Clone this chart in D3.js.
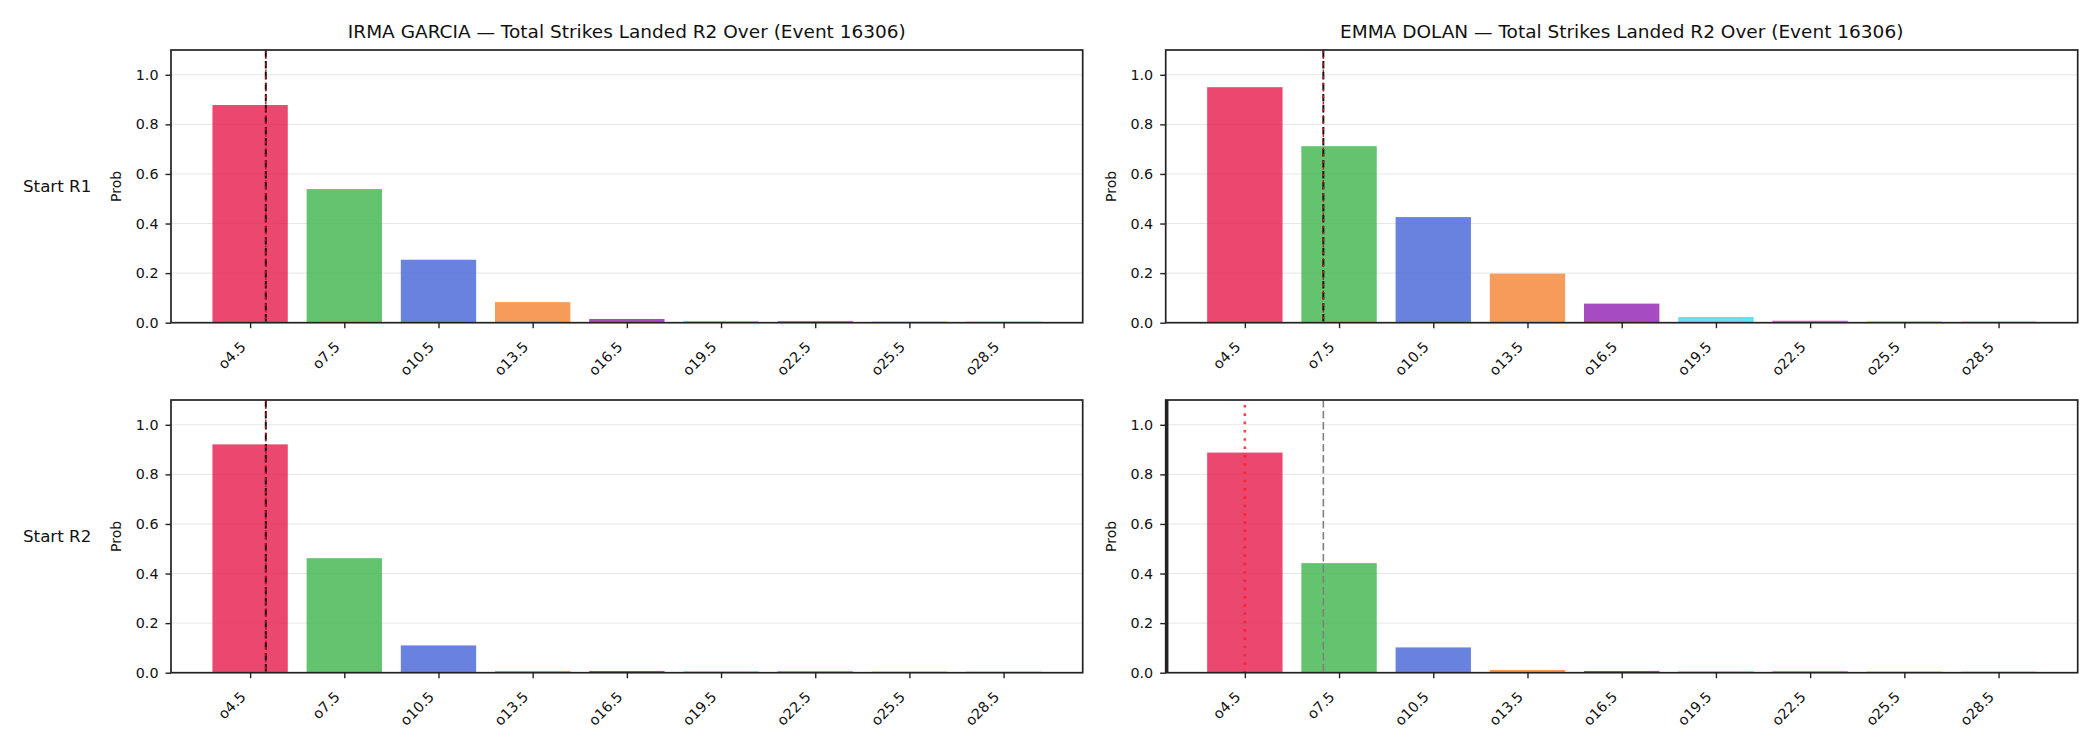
<!DOCTYPE html>
<html>
<head>
<meta charset="utf-8">
<script src="https://cdn.jsdelivr.net/npm/d3@7"></script>
<style>
  body { margin: 0; background: #fff; }
  svg { display: block; font-family: "DejaVu Sans", sans-serif; }
</style>
</head>
<body>
<div id="chart"></div>
<script>
// categorias del eje x (lineas "over")
const overLines = ["o4.5", "o7.5", "o10.5", "o13.5", "o16.5", "o19.5", "o22.5", "o25.5", "o28.5"];
const fighters = ["IRMA GARCIA", "EMMA DOLAN"];
const rowLabels = ["Start R1", "Start R2"];
const yTicks = [0, 0.2, 0.4, 0.6, 0.8, 1.0];

// probabilidades
const irmaR1 = [0.878, 0.539, 0.254, 0.083, 0.015, 0.007, 0.007, 0.006, 0.006];
const emmaR1 = [0.950, 0.712, 0.426, 0.198, 0.077, 0.023, 0.008, 0.007, 0.007];
const irmaR2 = [0.921, 0.462, 0.110, 0.007, 0.007, 0.006, 0.006, 0.006, 0.006];
const emmaR2 = [0.888, 0.442, 0.102, 0.011, 0.007, 0.006, 0.006, 0.006, 0.006];

// lineas verticales: linea negra (discontinua) y linea roja (punteada), en strikes
const blackLine = [5.0, 7.0, 5.0, 7.0];
const redLine = [5.0, 7.0, 5.0, 4.5];

const barColors = ["#e6194b", "#3cb44b", "#4363d8", "#f58231", "#911eb4", "#42d4f4", "#f032e6", "#bfef45", "#fabebe"];

const panels = [
  { row: 0, col: 0, probs: irmaR1 },
  { row: 0, col: 1, probs: emmaR1 },
  { row: 1, col: 0, probs: irmaR2 },
  { row: 1, col: 1, probs: emmaR2 }
];

const width = 2100, height = 750;
const colX = [[171, 1082.7], [1165.7, 2077.7]];
const rowY = [[50, 322.7], [400, 672.7]];

const svg = d3.select("#chart").append("svg")
  .attr("width", width).attr("height", height);

panels.forEach(function (p, i) {
  const [x0, x1] = colX[p.col];
  const [y0, y1] = rowY[p.row];
  const x = d3.scaleLinear().domain([-0.84, 8.84]).range([x0, x1]);
  const y = d3.scaleLinear().domain([0, 1.1]).range([y1, y0]);
  // strikes -> posicion de categoria
  const lineIdx = d3.scaleLinear().domain([4.5, 7.5]).range([0, 1]);

  const g = svg.append("g");

  // rejilla horizontal
  g.selectAll(".grid").data(yTicks).join("line")
    .attr("x1", x0).attr("x2", x1)
    .attr("y1", d => y(d)).attr("y2", d => y(d))
    .attr("stroke", "#e6e6e6").attr("stroke-width", 1);

  // barras
  g.selectAll(".bar").data(p.probs).join("rect")
    .attr("x", (d, j) => x(j - 0.4))
    .attr("width", x(0.8) - x(0))
    .attr("y", d => y(d))
    .attr("height", d => y(0) - y(d))
    .attr("fill", (d, j) => barColors[j])
    .attr("fill-opacity", 0.8);

  // lineas verticales
  if (i === 3) {
    g.append("line")
      .attr("x1", x(lineIdx(blackLine[i]))).attr("x2", x(lineIdx(blackLine[i])))
      .attr("y1", y0).attr("y2", y1)
      .attr("stroke", "#808080").attr("stroke-width", 1.6)
      .attr("stroke-dasharray", "7.5,3.5");
    g.append("line")
      .attr("x1", x(lineIdx(redLine[i]))).attr("x2", x(lineIdx(redLine[i])))
      .attr("y1", y0 + 5).attr("y2", y1)
      .attr("stroke", "#ff2020").attr("stroke-opacity", 0.85).attr("stroke-width", 2.6)
      .attr("stroke-dasharray", "2.6,5.7");
  } else {
    g.append("line")
      .attr("x1", x(lineIdx(blackLine[i]))).attr("x2", x(lineIdx(blackLine[i])))
      .attr("y1", y0).attr("y2", y1)
      .attr("stroke", "#111").attr("stroke-width", 2)
      .attr("stroke-dasharray", "7.5,3.5");
    g.append("line")
      .attr("x1", x(lineIdx(redLine[i]))).attr("x2", x(lineIdx(redLine[i])))
      .attr("y1", y0).attr("y2", y1)
      .attr("stroke", "#d0101a").attr("stroke-width", 1.4)
      .attr("stroke-dasharray", "2.5,4");
  }

  // marco
  g.append("rect")
    .attr("x", x0).attr("y", y0).attr("width", x1 - x0).attr("height", y1 - y0)
    .attr("fill", "none").attr("stroke", "#222").attr("stroke-width", 1.7);
  if (i === 3) {
    g.append("line").attr("x1", x0 + 1.5).attr("x2", x0 + 1.5)
      .attr("y1", y0).attr("y2", y1)
      .attr("stroke", "#222").attr("stroke-width", 2.5);
  }

  // eje y
  const yAxis = g.append("g").attr("transform", `translate(${x0},0)`)
    .call(d3.axisLeft(y).tickValues(yTicks).tickFormat(d3.format(".1f")).tickSize(5.5).tickPadding(7));
  yAxis.select(".domain").remove();
  yAxis.selectAll("line").attr("stroke", "#222").attr("stroke-width", 1.4);
  yAxis.selectAll("text").attr("font-size", 14.3).attr("fill", "#111")
    .attr("font-family", "DejaVu Sans");

  // eje x
  const xAxis = g.append("g").attr("transform", `translate(0,${y1})`)
    .call(d3.axisBottom(x).tickValues(d3.range(overLines.length))
      .tickFormat(j => overLines[j]).tickSize(5.5).tickPadding(0));
  xAxis.select(".domain").remove();
  xAxis.selectAll("line").attr("stroke", "#222").attr("stroke-width", 1.4);
  xAxis.selectAll("text")
    .attr("font-size", 14.3).attr("fill", "#111").attr("font-family", "DejaVu Sans")
    .attr("text-anchor", "end")
    .attr("dy", null).attr("y", null)
    .attr("transform", "translate(-4,25) rotate(-45)");

  // etiqueta del eje y
  g.append("text")
    .attr("transform", `translate(${x0 - 50},${(y0 + y1) / 2}) rotate(-90)`)
    .attr("text-anchor", "middle")
    .attr("font-size", 14).attr("fill", "#111")
    .text("Prob");

  // titulo
  if (p.row === 0) {
    g.append("text")
      .attr("x", (x0 + x1) / 2).attr("y", 38)
      .attr("text-anchor", "middle")
      .attr("font-size", 18.5).attr("fill", "#111")
      .text(fighters[p.col] + " \u2014 Total Strikes Landed R2 Over (Event 16306)");
  }

  // etiqueta de fila
  if (p.col === 0) {
    g.append("text")
      .attr("x", 23).attr("y", (y0 + y1) / 2 + 6)
      .attr("font-size", 16.7).attr("fill", "#111")
      .text(rowLabels[p.row]);
  }
});
</script>
</body>
</html>
